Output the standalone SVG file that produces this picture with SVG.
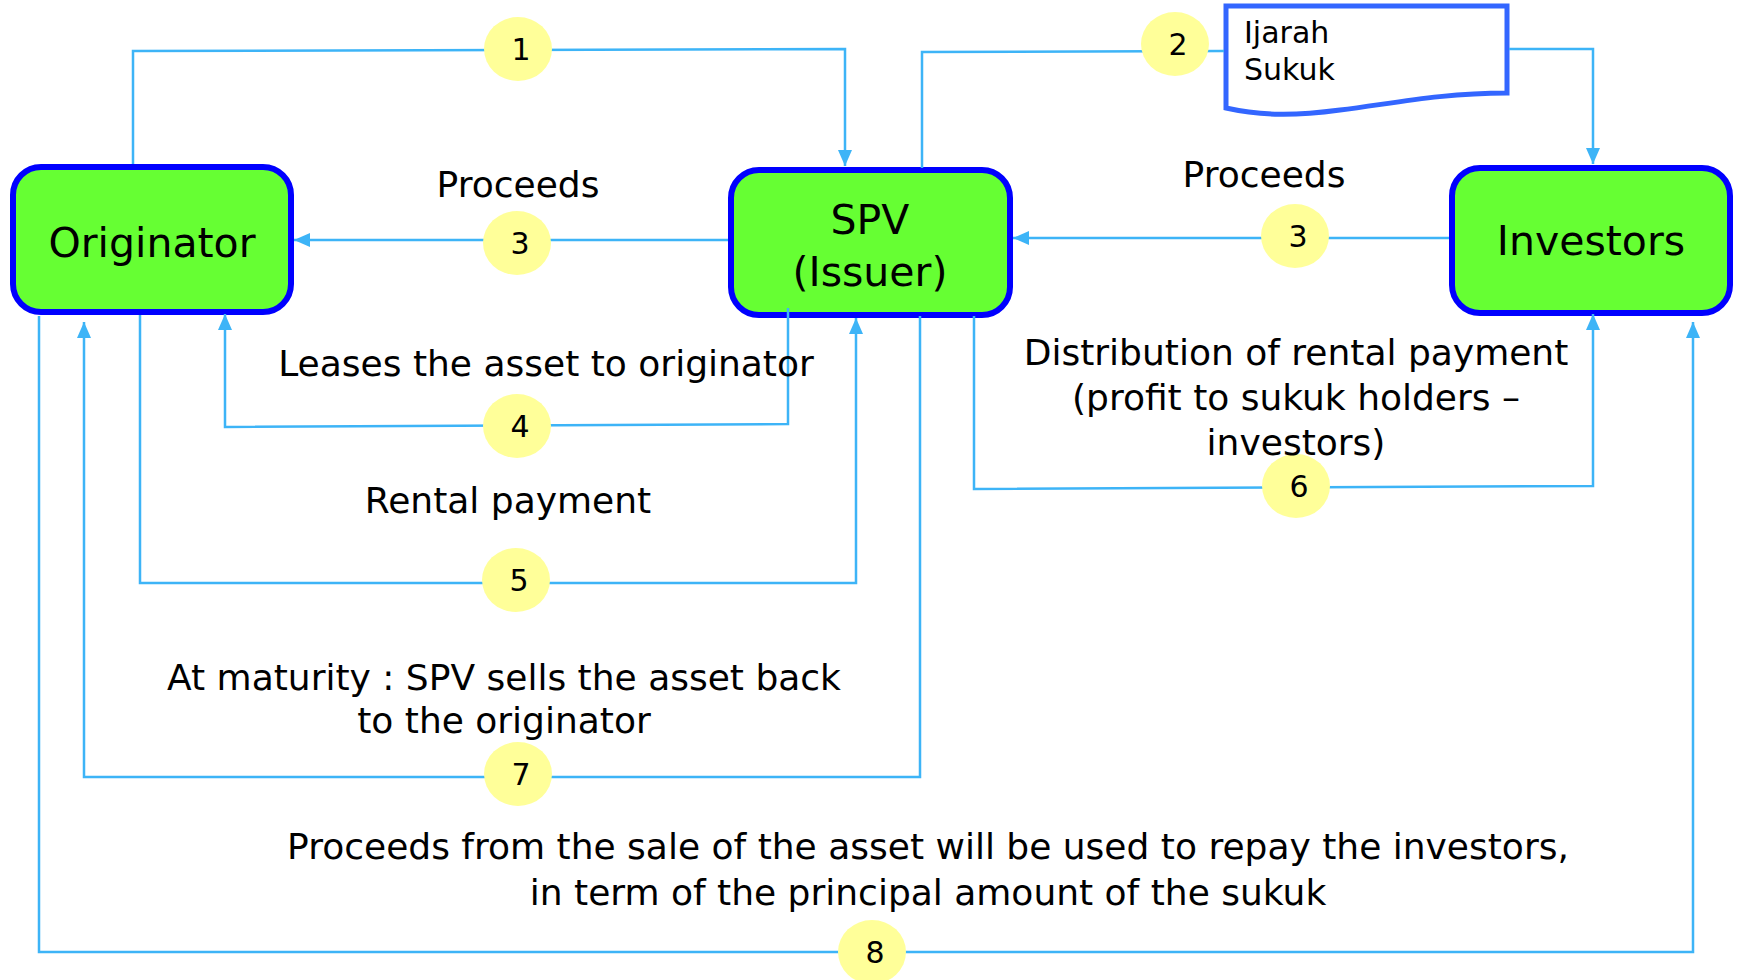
<svg xmlns="http://www.w3.org/2000/svg" width="1737" height="980" viewBox="0 0 1737 980">
<style>
.node{fill:#66FF33;stroke:#0000FF;stroke-width:6}
.nt{font-family:"DejaVu Sans",sans-serif;font-size:41px;fill:#000;text-anchor:middle}
.c{fill:none;stroke:#3DB4F7;stroke-width:2.5}
.bub{fill:#FFFF99}
.num{font-family:"DejaVu Sans",sans-serif;font-size:30px;fill:#000;text-anchor:middle}
.lbl{font-family:"DejaVu Sans",sans-serif;font-size:36px;fill:#000;text-anchor:middle}
.doc{fill:#fff;stroke:#3366FF;stroke-width:5}
.dt{font-family:"DejaVu Sans",sans-serif;font-size:30px;fill:#000}
</style>
<defs>
<marker id="ah" viewBox="0 0 16 14" refX="16" refY="7" markerWidth="16" markerHeight="14" markerUnits="userSpaceOnUse" orient="auto">
<path d="M0,0 L16,7 L0,14 z" fill="#3DB4F7"/>
</marker>
</defs>
<rect width="1737" height="980" fill="#fff"/>
<g id="originator">
<rect class="node" x="13" y="167" width="278" height="145" rx="28"/>
<text class="nt" x="152" y="257" font-size="42">Originator</text>
</g>
<g id="spv">
<rect class="node" x="731" y="170" width="279" height="145" rx="28"/>
<text class="nt" x="870" y="234">SPV</text>
<text class="nt" x="870" y="286">(Issuer)</text>
</g>
<g id="investors">
<rect class="node" x="1452" y="168" width="278" height="145" rx="28"/>
<text class="nt" x="1591" y="255">Investors</text>
</g>
<g id="ijarah-sukuk">
<path class="doc" d="M1226,6 H1507 V93 C1440,93 1390,104 1340,110 C1295,116 1262,116 1226,108 Z"/>
<text class="dt" x="1244" y="43">Ijarah</text>
<text class="dt" x="1244" y="80">Sukuk</text>
</g>
<g id="connectors">
<polyline class="c" points="133,164 133,51 845,49 845,166" marker-end="url(#ah)"/>
<polyline class="c" points="922,168 922,52 1224,51"/>
<polyline class="c" points="1509,49 1593,49 1593,164" marker-end="url(#ah)"/>
<polyline class="c" points="728,240 294,240" marker-end="url(#ah)"/>
<polyline class="c" points="1449,238 1013,238" marker-end="url(#ah)"/>
<polyline class="c" points="788,308 788,424 225,427 225,314" marker-end="url(#ah)"/>
<polyline class="c" points="140,315 140,583 856,583 856,318" marker-end="url(#ah)"/>
<polyline class="c" points="974,316 974,489 1593,486 1593,314" marker-end="url(#ah)"/>
<polyline class="c" points="920,316 920,777 84,777 84,322" marker-end="url(#ah)"/>
<polyline class="c" points="39,316 39,952 1693,952 1693,322" marker-end="url(#ah)"/>
</g>
<g id="steps">
<ellipse class="bub" cx="518" cy="49" rx="34" ry="32"/><text class="num" x="521" y="60">1</text>
<ellipse class="bub" cx="1175" cy="44" rx="34" ry="32"/><text class="num" x="1178" y="55">2</text>
<ellipse class="bub" cx="517" cy="243" rx="34" ry="32"/><text class="num" x="520" y="254">3</text>
<ellipse class="bub" cx="1295" cy="236" rx="34" ry="32"/><text class="num" x="1298" y="247">3</text>
<ellipse class="bub" cx="517" cy="426" rx="34" ry="32"/><text class="num" x="520" y="437">4</text>
<ellipse class="bub" cx="516" cy="580" rx="34" ry="32"/><text class="num" x="519" y="591">5</text>
<ellipse class="bub" cx="1296" cy="486" rx="34" ry="32"/><text class="num" x="1299" y="497">6</text>
<ellipse class="bub" cx="518" cy="774" rx="34" ry="32"/><text class="num" x="521" y="785">7</text>
<ellipse class="bub" cx="872" cy="952" rx="34" ry="32"/><text class="num" x="875" y="963">8</text>
</g>
<g id="labels">
<text class="lbl" x="518" y="197">Proceeds</text>
<text class="lbl" x="1264" y="187">Proceeds</text>
<text class="lbl" x="546" y="376">Leases the asset to originator</text>
<text class="lbl" x="508" y="513">Rental payment</text>
<text class="lbl" x="1296" y="365">Distribution of rental payment</text>
<text class="lbl" x="1296" y="410">(profit to sukuk holders –</text>
<text class="lbl" x="1296" y="455">investors)</text>
<text class="lbl" x="504" y="690">At maturity : SPV sells the asset back</text>
<text class="lbl" x="504" y="733">to the originator</text>
<text class="lbl" x="928" y="859">Proceeds from the sale of the asset will be used to repay the investors,</text>
<text class="lbl" x="928" y="905">in term of the principal amount of the sukuk</text>
</g>
</svg>
